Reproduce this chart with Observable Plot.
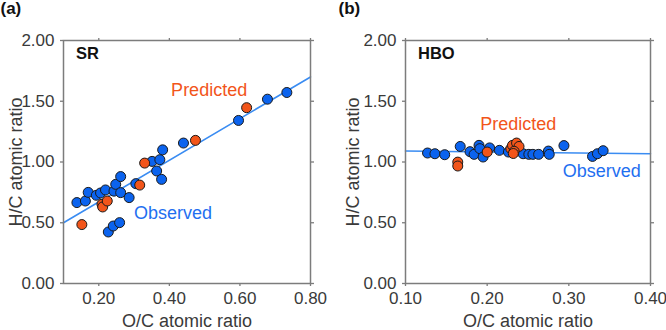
<!DOCTYPE html>
<html>
<head>
<meta charset="utf-8">
<script src="https://cdn.jsdelivr.net/npm/d3@7"></script>
<script src="https://cdn.jsdelivr.net/npm/@observablehq/plot@0.6"></script>
<style>
  html, body { margin: 0; padding: 0; background: #fff; }
  #chart { position: relative; width: 666px; height: 330px; overflow: hidden; }
  #chart > svg { position: absolute; top: 0; }
</style>
</head>
<body>
<div id="chart"></div>
<script>
// O/C vs H/C atomic ratios, [O/C, H/C]
const srObserved = [
  [0.138, 0.666], [0.162, 0.679], [0.170, 0.750], [0.193, 0.726], [0.205, 0.745],
  [0.219, 0.770], [0.243, 0.760], [0.248, 0.816], [0.262, 0.880], [0.262, 0.748],
  [0.286, 0.707], [0.305, 0.822], [0.227, 0.424], [0.241, 0.473], [0.259, 0.501],
  [0.351, 1.005], [0.373, 1.019], [0.381, 1.100], [0.364, 0.926], [0.378, 0.857],
  [0.440, 1.156], [0.596, 1.342], [0.678, 1.517], [0.733, 1.572]
];
const srPredicted = [
  [0.152, 0.485], [0.209, 0.652], [0.211, 0.630], [0.224, 0.679],
  [0.316, 0.810], [0.330, 0.991], [0.474, 1.178], [0.619, 1.447]
];
const srFit = [[0.10, 0.50], [0.80, 1.70]];

const hboObserved = [
  [0.127, 1.074], [0.136, 1.068], [0.148, 1.060], [0.167, 1.128], [0.179, 1.085],
  [0.184, 1.063], [0.190, 1.137], [0.191, 1.110], [0.195, 1.041], [0.203, 1.116],
  [0.215, 1.096], [0.226, 1.082], [0.244, 1.068], [0.251, 1.063], [0.256, 1.063],
  [0.263, 1.063], [0.275, 1.090], [0.276, 1.063], [0.294, 1.135], [0.329, 1.046],
  [0.335, 1.068], [0.342, 1.093]
];
const hboPredicted = [
  [0.164, 0.999], [0.164, 0.967], [0.200, 1.082], [0.229, 1.110], [0.231, 1.137],
  [0.236, 1.156], [0.239, 1.128], [0.233, 1.088], [0.232, 1.070]
];
const hboFit = [[0.10, 1.09], [0.40, 1.068]];

const yTicks = [0, 0.5, 1.0, 1.5, 2.0];
const srXTicks = [0.2, 0.4, 0.6, 0.8];
const hboXTicks = [0.1, 0.2, 0.3, 0.4];

const xLabel = "O/C atomic ratio";
const yLabel = "H/C atomic ratio";
const seriesNames = ["Predicted", "Observed"];

const BLUE = "#0b63ee";
const ORANGE = "#f2551a";
const LINE = "#3a8cf2";
const GRAY = "#7c7c7c";
const TEXT = "#3a3a3a";
const FONT = "'Liberation Sans', Arial, Helvetica, sans-serif";
const fmt = d3.format(".2f");

function panel({tag, name, xDomain, xTicks, observed, predicted, fit,
                marginLeft, marginRight, tagDx, yLabelDx, predictedAt, observedAt}) {
  const tickOpts = {tickSize: 3, stroke: GRAY, strokeWidth: 1.3};
  return Plot.plot({
    width: 333,
    height: 330,
    marginTop: 40,
    marginBottom: 47,
    marginLeft,
    marginRight,
    style: {fontFamily: FONT, fontSize: "17px", color: TEXT, background: "transparent", overflow: "visible"},
    x: {domain: xDomain},
    y: {domain: [0, 2]},
    marks: [
      Plot.axisX(xTicks, {...tickOpts, anchor: "bottom", tickPadding: 5, tickFormat: fmt, label: null}),
      Plot.axisX(xTicks, {...tickOpts, anchor: "top", tickFormat: () => "", label: null}),
      Plot.axisY(yTicks, {...tickOpts, anchor: "left", tickPadding: 6, tickFormat: fmt, label: null}),
      Plot.axisY(yTicks, {...tickOpts, anchor: "right", tickFormat: () => "", label: null}),
      Plot.line(fit, {x: d => d[0], y: d => d[1], stroke: LINE, strokeWidth: 1.6}),
      Plot.dot(observed, {x: d => d[0], y: d => d[1], r: 5, fill: BLUE, stroke: "#1a1a1a", strokeWidth: 1}),
      Plot.dot(predicted, {x: d => d[0], y: d => d[1], r: 5, fill: ORANGE, stroke: "#1a1a1a", strokeWidth: 1}),
      Plot.frame({stroke: GRAY, strokeWidth: 1.5}),
      Plot.text([seriesNames[0]], {x: predictedAt[0], y: predictedAt[1], text: d => d,
        textAnchor: "start", lineAnchor: "bottom", fill: ORANGE, fontSize: 18}),
      Plot.text([seriesNames[1]], {x: observedAt[0], y: observedAt[1], text: d => d,
        textAnchor: "start", lineAnchor: "bottom", fill: "#1f6ff0", fontSize: 18}),
      Plot.text([name], {frameAnchor: "top-left", dx: 12.5, dy: 18.5, text: d => d,
        textAnchor: "start", lineAnchor: "bottom", fontWeight: "bold", fontSize: 16.5, fill: "#111"}),
      Plot.text([tag], {frameAnchor: "top-left", dx: tagDx, dy: -27, text: d => d,
        textAnchor: "start", lineAnchor: "bottom", fontWeight: "bold", fontSize: 17, fill: "#111"}),
      Plot.text([xLabel], {frameAnchor: "bottom", dy: 43.5, text: d => d,
        textAnchor: "middle", lineAnchor: "bottom", fontSize: 18, fill: TEXT}),
      Plot.text([yLabel], {frameAnchor: "left", dx: yLabelDx, rotate: -90, text: d => d,
        textAnchor: "middle", lineAnchor: "bottom", fontSize: 18, fill: TEXT})
    ]
  });
}

const chart = document.getElementById("chart");

const a = panel({
  tag: "(a)", name: "SR", xDomain: [0.1, 0.8], xTicks: srXTicks,
  observed: srObserved, predicted: srPredicted, fit: srFit,
  marginLeft: 63, marginRight: 23, tagDx: -63, yLabelDx: -42,
  predictedAt: [0.405, 1.54], observedAt: [0.30, 0.53]
});
a.style.left = "0px";
chart.appendChild(a);

const b = panel({
  tag: "(b)", name: "HBO", xDomain: [0.1, 0.4], xTicks: hboXTicks,
  observed: hboObserved, predicted: hboPredicted, fit: hboFit,
  marginLeft: 72, marginRight: 16, tagDx: -67, yLabelDx: -47,
  predictedAt: [0.1915, 1.266], observedAt: [0.2926, 0.876]
});
b.style.left = "333px";
chart.appendChild(b);
</script>
</body>
</html>
